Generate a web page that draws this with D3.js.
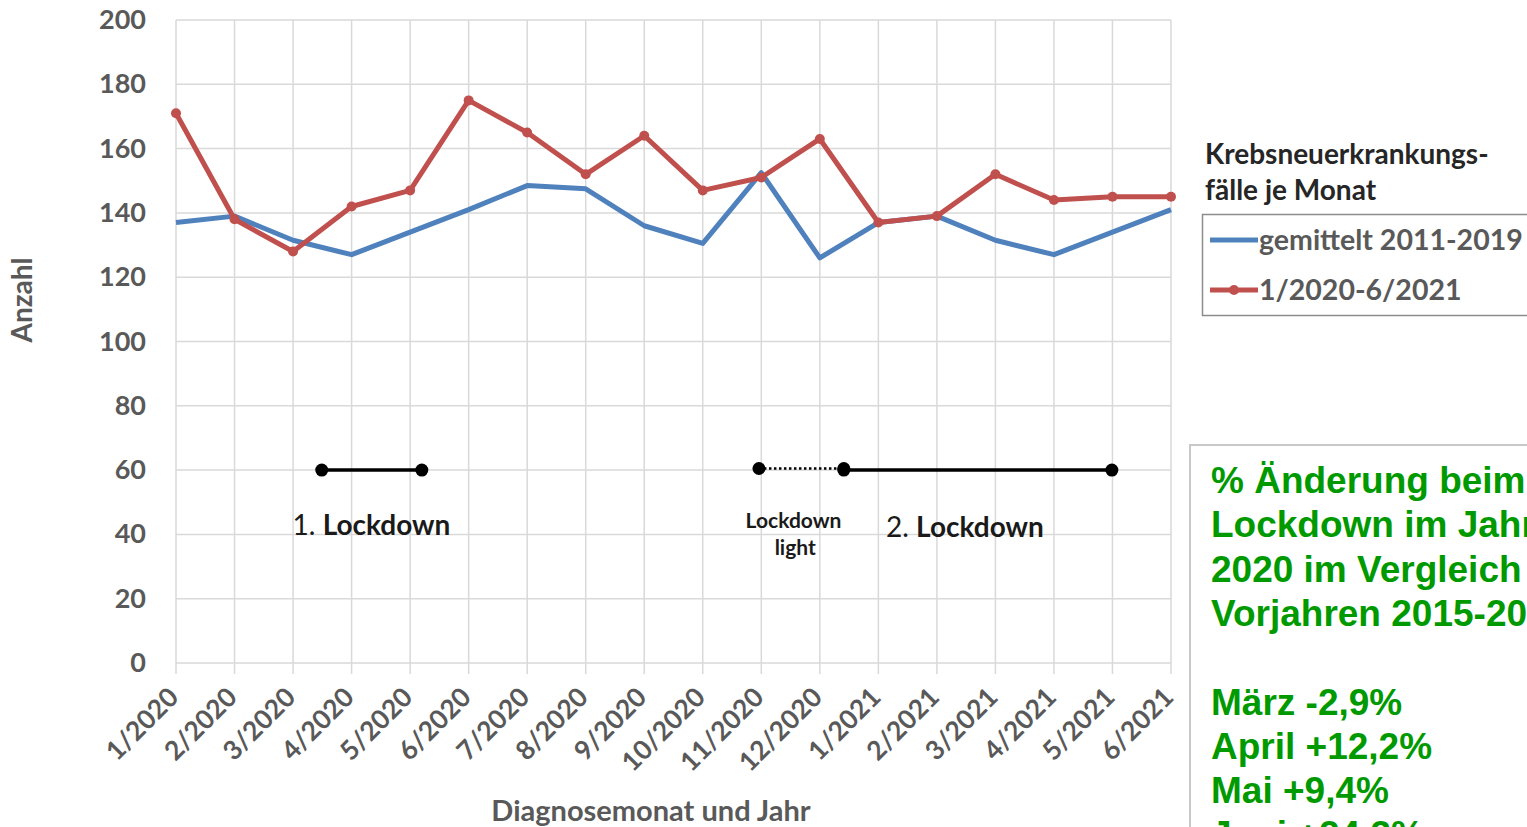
<!DOCTYPE html>
<html><head><meta charset="utf-8">
<script src="https://cdn.jsdelivr.net/npm/d3@7"></script>
<style>
html,body{margin:0;padding:0;background:#fff;overflow:hidden;}
svg{display:block;}
</style></head>
<body>
<svg id="chart" width="1527" height="827"></svg>
<script>
const categories = ["1/2020","2/2020","3/2020","4/2020","5/2020","6/2020","7/2020","8/2020","9/2020","10/2020","11/2020","12/2020","1/2021","2/2021","3/2021","4/2021","5/2021","6/2021"];
const averaged = [137,139,131.5,127,134,141,148.5,147.5,136,130.5,152.5,126,137,139,131.5,127,134,141];
const actual = [171,138,128,142,147,175,165,152,164,147,151,163,137,139,152,144,145,145];
const yTicks = [0,20,40,60,80,100,120,140,160,180,200];
const seriesNames = ["gemittelt 2011-2019","1/2020-6/2021"];
const legendTitle = ["Krebsneuerkrankungs-","fälle je Monat"];
// lockdown periods in month-index units, at count level 60
const lockdowns = [
  {from:2.49, to:4.2, level:60, dashed:false},
  {from:9.96, to:11.41, level:60.5, dashed:true},
  {from:11.41, to:15.99, level:60, dashed:false}
];
const noteLines = ["% Änderung beim","Lockdown im Jahr","2020 im Vergleich zu","Vorjahren 2015-2019","","März -2,9%","April +12,2%","Mai +9,4%","Juni +24,3%"];

const svg = d3.select("#chart");
const L=176, R=1171, T=20, B=663;
const x = d3.scalePoint().domain(categories).range([L,R]);
const xi = d3.scaleLinear().domain([0,categories.length-1]).range([L,R]);
const y = d3.scaleLinear().domain([0,200]).range([B,T]);
const grid="#d9d9d9", txt="#595959";
const font="Lato, 'Noto Sans', sans-serif";

// horizontal gridlines
svg.append("g").selectAll("line").data(yTicks).join("line")
  .attr("x1",L).attr("x2",R).attr("y1",d=>y(d)).attr("y2",d=>y(d))
  .attr("stroke",grid).attr("stroke-width",1.5);
// vertical gridlines + ticks
svg.append("g").selectAll("line").data(categories).join("line")
  .attr("x1",d=>x(d)).attr("x2",d=>x(d)).attr("y1",T).attr("y2",B+11)
  .attr("stroke",grid).attr("stroke-width",1.5);

// y labels
svg.append("g").selectAll("text").data(yTicks).join("text")
  .attr("x",146).attr("y",d=>y(d)+9).attr("text-anchor","end")
  .attr("font-family",font).attr("font-weight",700).attr("font-size",27).attr("fill",txt)
  .text(d=>d);
// x labels
svg.append("g").selectAll("text").data(categories).join("text")
  .attr("transform",d=>`translate(${x(d)+4},${B+36}) rotate(-45)`)
  .attr("text-anchor","end")
  .attr("font-family",font).attr("font-weight",700).attr("font-size",26.5).attr("fill",txt)
  .text(d=>d);
// axis titles
svg.append("text").attr("transform","translate(32,300) rotate(-90)").attr("text-anchor","middle")
  .attr("font-family",font).attr("font-weight",700).attr("font-size",28).attr("fill",txt).text("Anzahl");
svg.append("text").attr("x",651).attr("y",821).attr("text-anchor","middle")
  .attr("font-family",font).attr("font-weight",700).attr("font-size",29).attr("fill",txt).text("Diagnosemonat und Jahr");

// series
const line = d3.line().x((d,i)=>x(categories[i])).y(d=>y(d));
svg.append("path").datum(averaged).attr("d",line).attr("fill","none")
  .attr("stroke","#4f81bd").attr("stroke-width",5).attr("stroke-linejoin","round");
svg.append("path").datum(actual).attr("d",line).attr("fill","none")
  .attr("stroke","#c0504d").attr("stroke-width",5).attr("stroke-linejoin","round");
svg.append("g").selectAll("circle").data(actual).join("circle")
  .attr("cx",(d,i)=>x(categories[i])).attr("cy",d=>y(d)).attr("r",5).attr("fill","#c0504d");

// lockdown annotations
lockdowns.forEach(p=>{
  svg.append("line").attr("x1",xi(p.from)).attr("x2",xi(p.to)).attr("y1",y(p.level)).attr("y2",y(p.level))
    .attr("stroke","#000").attr("stroke-width",p.dashed?2.5:3.5)
    .attr("stroke-dasharray",p.dashed?"2.5,2.5":null);
  [p.from,p.to].forEach(v=>svg.append("circle").attr("cx",xi(v)).attr("cy",y(p.level)).attr("r",6.5).attr("fill","#000"));
});
function lockLabel(cx,cy,num){
  const t=svg.append("text").attr("x",cx).attr("y",cy).attr("text-anchor","middle")
    .attr("font-family",font).attr("font-size",28).attr("fill","#1a1a1a");
  t.append("tspan").attr("font-weight",400).text(num+". ");
  t.append("tspan").attr("font-weight",700).text("Lockdown");
}
lockLabel(xi(3.34),535,1);
lockLabel(xi(13.48),537,2);
svg.append("text").attr("x",xi(10.55)).attr("y",528).attr("text-anchor","middle")
  .attr("font-family",font).attr("font-weight",700).attr("font-size",21).attr("fill","#1a1a1a").text("Lockdown");
svg.append("text").attr("x",xi(10.58)).attr("y",555).attr("text-anchor","middle")
  .attr("font-family",font).attr("font-weight",700).attr("font-size",21).attr("fill","#1a1a1a").text("light");

// legend
legendTitle.forEach((s,i)=>svg.append("text").attr("x",1205).attr("y",164+i*36)
  .attr("font-family",font).attr("font-weight",700).attr("font-size",28).attr("fill","#262626").text(s));
svg.append("rect").attr("x",1202.5).attr("y",214.5).attr("width",400).attr("height",101)
  .attr("fill","none").attr("stroke","#8c8c8c").attr("stroke-width",1.5);
const legColors=["#4f81bd","#c0504d"];
seriesNames.forEach((s,i)=>{
  const ly=240+i*50;
  svg.append("line").attr("x1",1210).attr("x2",1258).attr("y1",ly).attr("y2",ly)
    .attr("stroke",legColors[i]).attr("stroke-width",5);
  if(i===1) svg.append("circle").attr("cx",1234).attr("cy",ly).attr("r",5).attr("fill",legColors[i]);
  svg.append("text").attr("x",1259).attr("y",ly+10).attr("font-family",font).attr("font-weight",700)
    .attr("font-size",28.5).attr("fill",txt).text(s);
});

// green note box
svg.append("rect").attr("x",1190).attr("y",445).attr("width",400).attr("height",450)
  .attr("fill","#fff").attr("stroke","#c8c8c8").attr("stroke-width",2);
noteLines.forEach((s,i)=>svg.append("text").attr("x",1211).attr("y",493+i*44.3)
  .attr("font-family","'Liberation Sans', Arial, sans-serif").attr("font-weight",700)
  .attr("font-size",37).attr("fill","#009a00").text(s));
</script>
</body></html>
